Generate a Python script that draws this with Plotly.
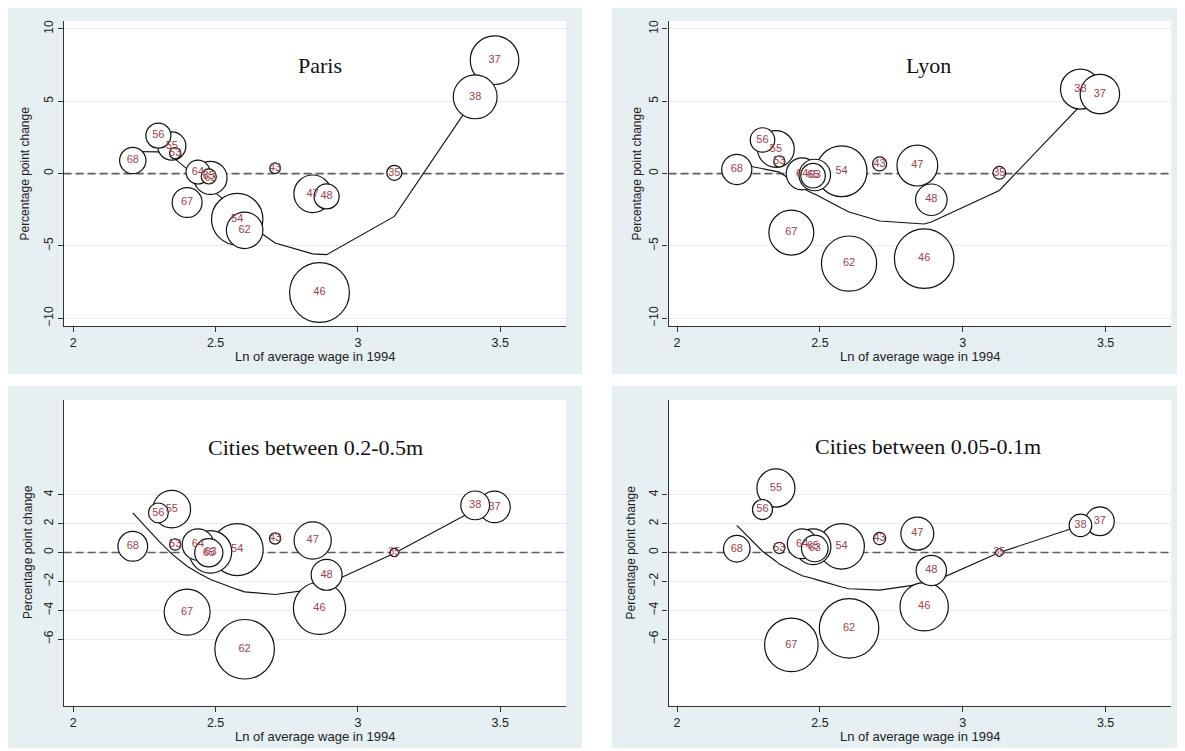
import plotly.graph_objects as go

W, H = 1185, 751          # reference picture size
OFF = 8                   # the page body adds an 8px margin; compensate for it
FW, FH = W - OFF, H - OFF

# ---------------- data ----------------
categories = ["35", "37", "38", "43", "46", "47", "48", "53", "54", "55",
              "56", "62", "63", "64", "65", "67", "68"]
ln_wage_1994 = [3.128, 3.480, 3.412, 2.709, 2.865, 2.841, 2.890, 2.358, 2.576, 2.346,
                2.299, 2.602, 2.482, 2.438, 2.476, 2.400, 2.209]

paris_change = [0.05, 7.83, 5.30, 0.37, -8.22, -1.40, -1.58, 1.40, -3.15, 1.90,
                2.62, -3.92, -0.30, 0.10, -0.20, -2.00, 0.90]
paris_fit = [-2.96, 7.00, 5.30, -4.80, -5.60, -5.55, -5.60, 1.00, -2.60, 1.20,
             1.50, -3.30, -1.05, -0.30, -0.95, 0.30, 1.52]
paris_weight = [0.64, 6.66, 5.43, 0.32, 10.1, 4.0, 1.77, 0.36, 7.45, 2.25,
                1.77, 3.76, 3.1, 1.6, 0.64, 2.53, 1.96]

lyon_change = [0.05, 5.49, 5.83, 0.67, -5.88, 0.55, -1.81, 0.83, 0.16, 1.70,
               2.32, -6.22, -0.10, -0.02, -0.15, -4.08, 0.28]
lyon_fit = [-1.17, 5.30, 4.70, -3.28, -3.48, -3.45, -3.35, 0.10, -2.40, 0.17,
            0.35, -2.66, -1.42, -1.00, -1.38, -0.46, 0.70]
lyon_weight = [0.46, 4.4, 4.5, 0.56, 10.0, 4.7, 2.8, 0.36, 7.3, 3.8,
               1.69, 8.6, 2.8, 2.9, 1.7, 5.7, 2.56]

mid_change = [0.00, 3.15, 3.26, 0.97, -3.86, 0.83, -1.54, 0.55, 0.20, 3.00,
              2.74, -6.69, 0.05, 0.55, -0.02, -4.12, 0.43]
mid_fit = [-0.05, 3.40, 2.96, -2.90, -2.42, -2.55, -2.20, -0.27, -2.55, -0.09,
           0.82, -2.72, -1.86, -1.40, -1.83, -0.95, 2.74]
mid_weight = [0.2, 2.8, 2.34, 0.36, 7.7, 3.9, 2.7, 0.36, 7.6, 4.0,
              1.1, 10.0, 5.1, 2.8, 2.25, 5.95, 2.5]

small_change = [0.00, 2.16, 1.88, 0.97, -3.75, 1.31, -1.24, 0.32, 0.43, 4.46,
                2.97, -5.24, 0.28, 0.60, 0.40, -6.39, 0.26]
small_fit = [0.00, 2.30, 1.86, -2.60, -2.15, -2.20, -2.08, -0.80, -2.39, -0.60,
             0.09, -2.50, -1.84, -1.60, -1.80, -1.25, 1.88]
small_weight = [0.16, 2.34, 1.44, 0.42, 6.6, 3.06, 2.6, 0.36, 5.86, 4.1,
                1.14, 10.0, 2.0, 2.5, 3.6, 8.1, 2.0]

titles = ["Paris", "Lyon", "Cities between 0.2-0.5m", "Cities between 0.05-0.1m"]
x_ticks = [2, 2.5, 3, 3.5]
x_tick_labels = ["2", "2.5", "3", "3.5"]
y_ticks_top = [-10, -5, 0, 5, 10]
y_ticks_bottom = [-6, -4, -2, 0, 2, 4]
x_title = "Ln of average wage in 1994"
y_title = "Percentage point change"

# ---------------- styling / geometry ----------------
BG = "#e6eff1"
GRID = "#e4edef"
AXIS = "#333333"
LABEL = "#a0404e"
SANS = "Liberation Sans, Arial, sans-serif"
SERIF = "Liberation Serif, Times New Roman, serif"


def px(x):
    return (x - OFF) / FW


def py(y):
    return 1 - (y - OFF) / FH


panels = [
    dict(change=paris_change, fit=paris_fit, weight=paris_weight, title=titles[0],
         yticks=y_ticks_top, plot=(63.6, 20.0, 566.0, 325.7), bg=(8, 7, 582, 374),
         xr=(1.966, 3.731), yr=(-10.52, 10.54), title_xy=(320, 65), ytitle_x=25),
    dict(change=lyon_change, fit=lyon_fit, weight=lyon_weight, title=titles[1],
         yticks=y_ticks_top, plot=(668.5, 20.0, 1171.3, 325.7), bg=(612, 7, 1182, 374),
         xr=(1.970, 3.730), yr=(-10.52, 10.54), title_xy=(928, 65), ytitle_x=637),
    dict(change=mid_change, fit=mid_fit, weight=mid_weight, title=titles[2],
         yticks=y_ticks_bottom, plot=(63.6, 400.0, 566.0, 706.7), bg=(8, 386, 582, 749),
         xr=(1.966, 3.731), yr=(-10.6, 10.55), title_xy=(316, 448), ytitle_x=27.5),
    dict(change=small_change, fit=small_fit, weight=small_weight, title=titles[3],
         yticks=y_ticks_bottom, plot=(668.5, 400.0, 1171.3, 706.7), bg=(612, 386, 1182, 749),
         xr=(1.970, 3.730), yr=(-10.6, 10.55), title_xy=(928, 447), ytitle_x=631),
]

fig = go.Figure()
shapes = []
annotations = []
layout_axes = {}

for i, p in enumerate(panels):
    n = i + 1
    xa = "x" if n == 1 else f"x{n}"
    ya = "y" if n == 1 else f"y{n}"
    x0, y0, x1, y1 = p["plot"]
    bx0, by0, bx1, by1 = p["bg"]

    # panel background and white plot region
    shapes.append(dict(type="rect", xref="paper", yref="paper", layer="below",
                       x0=px(bx0), x1=px(bx1), y0=py(by1), y1=py(by0),
                       fillcolor=BG, line=dict(width=0)))
    shapes.append(dict(type="rect", xref="paper", yref="paper", layer="below",
                       x0=px(x0), x1=px(x1), y0=py(y1), y1=py(y0),
                       fillcolor="white", line=dict(width=0)))

    # dashed zero line spanning the axis range, below the bubbles
    fig.add_trace(go.Scatter(
        x=list(p["xr"]), y=[0, 0], mode="lines",
        line=dict(color="#5e5e5e", width=1.7, dash="8px,4px"),
        xaxis=xa, yaxis=ya, hoverinfo="skip", showlegend=False))

    # fitted line (sorted by x)
    order = sorted(range(len(categories)), key=lambda k: ln_wage_1994[k])
    fig.add_trace(go.Scatter(
        x=[ln_wage_1994[k] for k in order], y=[p["fit"][k] for k in order],
        mode="lines", line=dict(color="#111111", width=1.1),
        xaxis=xa, yaxis=ya, hoverinfo="skip", showlegend=False))

    # bubbles, largest first so small ones lie on top
    border = sorted(range(len(categories)), key=lambda k: -p["weight"][k])
    fig.add_trace(go.Scatter(
        x=[ln_wage_1994[k] for k in border], y=[p["change"][k] for k in border],
        text=[categories[k] for k in border],
        mode="markers+text", textposition="middle center",
        textfont=dict(family=SANS, size=11, color=LABEL),
        marker=dict(size=[p["weight"][k] for k in border], sizemode="area",
                    sizeref=1.13 / 200, sizemin=0, color="white", opacity=1,
                    line=dict(color="#111111", width=1.2)),
        xaxis=xa, yaxis=ya, hoverinfo="skip", showlegend=False, cliponaxis=False))

    xkey = "xaxis" if n == 1 else f"xaxis{n}"
    ykey = "yaxis" if n == 1 else f"yaxis{n}"
    layout_axes[xkey] = dict(
        domain=[px(x0), px(x1)], range=list(p["xr"]), anchor=ya,
        tickvals=x_ticks, ticktext=x_tick_labels, ticks="outside", ticklen=5,
        tickcolor=AXIS, tickwidth=1, showline=True, linecolor=AXIS, linewidth=1.1,
        showgrid=False, zeroline=False, tickfont=dict(family=SANS, size=12.5, color="#222"),
        fixedrange=True)
    layout_axes[ykey] = dict(
        domain=[py(y1), py(y0)], range=list(p["yr"]), anchor=xa,
        tickvals=p["yticks"], ticks="outside", ticklen=5, tickangle=-90,
        tickcolor=AXIS, tickwidth=1, showline=True, linecolor=AXIS, linewidth=1.1,
        showgrid=True, gridcolor=GRID, gridwidth=1, zeroline=False,
        tickfont=dict(family=SANS, size=12, color="#222"), fixedrange=True)

    # panel title
    tx, ty = p["title_xy"]
    annotations.append(dict(text=p["title"], xref="paper", yref="paper",
                            x=px(tx), y=py(ty), xanchor="center", yanchor="middle",
                            showarrow=False, font=dict(family=SERIF, size=22, color="#111")))
    # x axis title
    annotations.append(dict(text=x_title, xref="paper", yref="paper",
                            x=px((x0 + x1) / 2), y=py(y1 + 30.5),
                            xanchor="center", yanchor="middle", showarrow=False,
                            font=dict(family=SANS, size=13, color="#222")))
    # y axis title, centred on the zero line
    ylo, yhi = p["yr"]
    zero_px = y0 + (yhi - 0) / (yhi - ylo) * (y1 - y0)
    annotations.append(dict(text=y_title, xref="paper", yref="paper",
                            x=px(p["ytitle_x"]), y=py(zero_px),
                            xanchor="center", yanchor="middle", textangle=-90,
                            showarrow=False, font=dict(family=SANS, size=12, color="#222")))

fig.update_layout(
    width=FW, height=FH, autosize=False,
    margin=dict(l=0, r=0, t=0, b=0),
    paper_bgcolor="white", plot_bgcolor="rgba(0,0,0,0)",
    shapes=shapes, annotations=annotations, showlegend=False,
    **layout_axes)

fig.write_html("out.html")
